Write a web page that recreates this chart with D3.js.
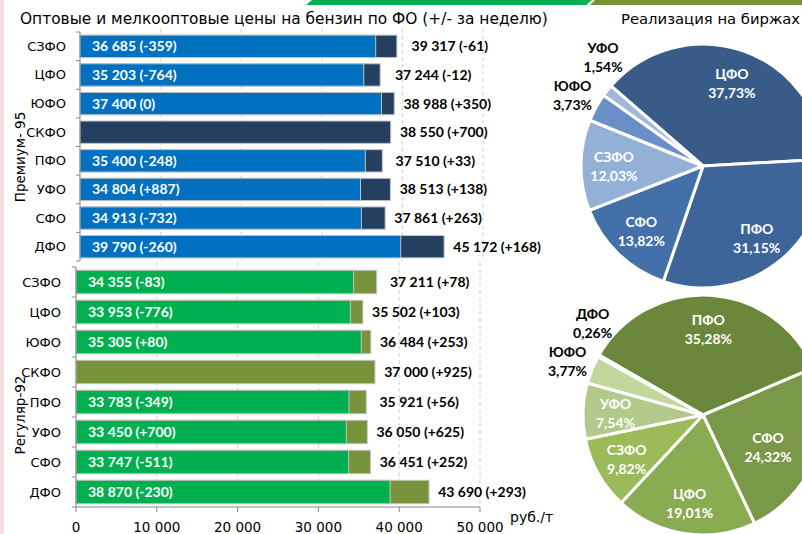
<!DOCTYPE html>
<html>
<head>
<meta charset="utf-8">
<script src="https://cdn.jsdelivr.net/npm/d3@7/dist/d3.min.js"></script>
<style>
  html, body { margin: 0; padding: 0; background: #fff; }
  svg { display: block; }
</style>
</head>
<body>
<svg id="chart" width="802" height="534"></svg>
<script>
// Federal districts, in the order used by both bar panels
const regions = ["СЗФО", "ЦФО", "ЮФО", "СКФО", "ПФО", "УФО", "СФО", "ДФО"];

// Премиум-95: wholesale and small-wholesale prices, руб./т, with weekly change
const premWholesale    = [36685, 35203, 37400, null, 35400, 34804, 34913, 39790];
const premWholesaleChg = [-359, -764, 0, null, -248, 887, -732, -260];
const premSmall        = [39317, 37244, 38988, 38550, 37510, 38513, 37861, 45172];
const premSmallChg     = [-61, -12, 350, 700, 33, 138, 263, 168];

// Регуляр-92
const regWholesale    = [34355, 33953, 35305, null, 33783, 33450, 33747, 38870];
const regWholesaleChg = [-83, -776, 80, null, -349, 700, -511, -230];
const regSmall        = [37211, 35502, 36484, 37000, 35921, 36050, 36451, 43690];
const regSmallChg     = [78, 103, 253, 925, 56, 625, 252, 293];

// Axis ticks
const xTicks = [0, 10000, 20000, 30000, 40000, 50000];

// Exchange sales by district, %
const premPieRegions = ["ЦФО", "ПФО", "СФО", "СЗФО", "ЮФО", "УФО"];
const premPieShares  = [37.73, 31.15, 13.82, 12.03, 3.73, 1.54];
const regPieRegions  = ["ПФО", "СФО", "ЦФО", "СЗФО", "УФО", "ЮФО", "ДФО"];
const regPieShares   = [35.28, 24.32, 19.01, 9.82, 7.54, 3.77, 0.26];

const W = 802, H = 534;
const svg = d3.select("#chart");
const FONT = "'DejaVu Sans', sans-serif";
const BOLD = "Lato, 'Open Sans', sans-serif";

const fmtNum = v => d3.format(",")(v).replace(/,/g, " ");
const fmtChg = v => v > 0 ? "+" + v : String(v);
const fmtPct = v => d3.format(".2f")(v).replace(".", ",") + "%";

// page decorations
svg.append("rect").attr("x", 0).attr("y", 0).attr("width", 4).attr("height", H).attr("fill", "#f5dede");
svg.append("path").attr("d", "M306,5 L312,0 L592,0 L586,5 Z").attr("fill", "#00b050");
svg.append("path").attr("d", "M590,5 L595,0 L802,0 L802,5 Z").attr("fill", "#77933c");

svg.append("text").attr("x", 20).attr("y", 24)
  .attr("font-family", FONT).attr("font-size", 15.4).attr("fill", "#000")
  .text("Оптовые и мелкооптовые цены на бензин по ФО (+/- за неделю)");
svg.append("text").attr("x", 621).attr("y", 24)
  .attr("font-family", FONT).attr("font-size", 14.8).attr("fill", "#000")
  .text("Реализация на биржах");

function barPanel(opt) {
  const g = svg.append("g");
  const x = d3.scaleLinear().domain([0, 50000]).range([opt.x0, opt.x1]);
  const y = d3.scaleBand().domain(regions).range([opt.y0, opt.y1])
    .paddingInner(0.22).paddingOuter(0.11);

  // dashed grid
  g.selectAll("line.grid").data(xTicks.slice(1)).join("line")
    .attr("x1", d => x(d)).attr("x2", d => x(d))
    .attr("y1", opt.gridTop).attr("y2", opt.y1)
    .attr("stroke", "#d0d0d0").attr("stroke-dasharray", "4,3");

  const rows = regions.map((r, i) => ({
    r, w: opt.wholesale[i], wc: opt.wholesaleChg[i], s: opt.small[i], sc: opt.smallChg[i]
  }));

  // small-wholesale bar (full length, underneath)
  g.selectAll("rect.small").data(rows).join("rect")
    .attr("x", x(0)).attr("y", d => y(d.r))
    .attr("width", d => x(d.s) - x(0)).attr("height", y.bandwidth())
    .attr("fill", opt.cSmall).attr("stroke", "#c3c3c3").attr("stroke-width", 1);

  // wholesale bar
  g.selectAll("rect.whole").data(rows.filter(d => d.w != null)).join("rect")
    .attr("x", x(0)).attr("y", d => y(d.r))
    .attr("width", d => x(d.w) - x(0)).attr("height", y.bandwidth())
    .attr("fill", opt.cWhole).attr("stroke", "#c3c3c3").attr("stroke-width", 1);

  // wholesale labels inside
  g.selectAll("text.whole").data(rows.filter(d => d.w != null)).join("text")
    .attr("x", x(0) + opt.inPad).attr("y", d => y(d.r) + y.bandwidth() / 2)
    .attr("dy", "0.36em")
    .attr("font-family", BOLD).attr("font-weight", "bold").attr("font-size", 14)
    .attr("fill", "#fff")
    .text(d => `${fmtNum(d.w)} (${fmtChg(d.wc)})`);

  // small-wholesale labels outside
  g.selectAll("text.small").data(rows).join("text")
    .attr("x", d => x(d.s) + 53).attr("y", d => y(d.r) + y.bandwidth() / 2)
    .attr("dy", "0.36em").attr("text-anchor", "middle")
    .attr("font-family", BOLD).attr("font-weight", "bold").attr("font-size", 14)
    .attr("fill", "#000")
    .text(d => `${fmtNum(d.s)} (${fmtChg(d.sc)})`);

  // category axis
  const step = (opt.y1 - opt.y0) / regions.length;
  g.append("line").attr("x1", x(0)).attr("x2", x(0)).attr("y1", opt.y0).attr("y2", opt.y1)
    .attr("stroke", "#868686");
  g.selectAll("line.ytick").data(d3.range(regions.length + 1)).join("line")
    .attr("x1", x(0) - 4).attr("x2", x(0))
    .attr("y1", i => opt.y0 + i * step).attr("y2", i => opt.y0 + i * step)
    .attr("stroke", "#868686");
  g.selectAll("text.cat").data(regions).join("text")
    .attr("x", x(0) - opt.labGap).attr("y", d => y(d) + y.bandwidth() / 2)
    .attr("dy", "0.35em").attr("text-anchor", "end")
    .attr("font-family", FONT).attr("font-size", 13).attr("fill", "#000")
    .text(d => d);

  g.append("text")
    .attr("transform", `translate(${opt.groupX},${opt.groupY}) rotate(-90)`)
    .attr("text-anchor", "middle")
    .attr("font-family", FONT).attr("font-size", 13.5).attr("fill", "#000")
    .text(opt.group);

  if (opt.showX) {
    g.append("line").attr("x1", x(0)).attr("x2", x(50000)).attr("y1", opt.y1).attr("y2", opt.y1)
      .attr("stroke", "#868686");
    g.selectAll("line.xtick").data(xTicks).join("line")
      .attr("x1", d => x(d)).attr("x2", d => x(d))
      .attr("y1", opt.y1).attr("y2", opt.y1 + 5).attr("stroke", "#868686");
    g.selectAll("text.xt").data(xTicks).join("text")
      .attr("x", d => x(d)).attr("y", opt.y1 + 25).attr("text-anchor", "middle")
      .attr("font-family", FONT).attr("font-size", 13.5).attr("fill", "#000")
      .text(d => fmtNum(d));
    g.append("text").attr("x", x(50000) + 30).attr("y", opt.y1 + 15)
      .attr("font-family", FONT).attr("font-size", 14).attr("fill", "#000")
      .text("руб./т");
  }
}

barPanel({
  x0: 80, x1: 483, y0: 32, y1: 261, gridTop: 29, inPad: 12, labGap: 14,
  wholesale: premWholesale, wholesaleChg: premWholesaleChg,
  small: premSmall, smallChg: premSmallChg,
  cWhole: "#0070c0", cSmall: "#253f61",
  group: "Премиум- 95", groupX: 25, groupY: 157, showX: false
});

barPanel({
  x0: 76, x1: 480, y0: 267, y1: 507, gridTop: 262, inPad: 12, labGap: 15,
  wholesale: regWholesale, wholesaleChg: regWholesaleChg,
  small: regSmall, smallChg: regSmallChg,
  cWhole: "#00b050", cSmall: "#77933c",
  group: "Регуляр-92", groupX: 25, groupY: 415, showX: true
});

function piePanel(opt) {
  const g = svg.append("g").attr("transform", `translate(${opt.cx},${opt.cy})`);
  const data = opt.regions.map((r, i) => ({ r, v: opt.shares[i], c: opt.colors[i] }));
  const start = opt.start * Math.PI / 180;
  const arcs = d3.pie().value(d => d.v).sort(null)
    .startAngle(start).endAngle(start + 2 * Math.PI)(data);
  const arc = d3.arc().innerRadius(0).outerRadius(opt.r);

  g.selectAll("path").data(arcs).join("path")
    .attr("d", arc).attr("fill", d => d.data.c)
    .attr("stroke", "#fff").attr("stroke-width", 3).attr("stroke-linejoin", "round");

  const inArc = d3.arc().innerRadius(opt.r * 0.73).outerRadius(opt.r * 0.73);
  const outArc = d3.arc().innerRadius(opt.r * 1.22).outerRadius(opt.r * 1.22);

  const labels = arcs.map(a => {
    const outside = a.data.v < 5;
    let [lx, ly] = (outside ? outArc : inArc).centroid(a);
    // keep labels within the right edge of the page
    lx = Math.min(lx, W - opt.cx - 34);
    return { a, outside, lx, ly };
  });
  // keep outside labels from overlapping: push the later one upward
  const outs = labels.filter(l => l.outside);
  for (let i = 1; i < outs.length; i++) {
    const prev = outs[i - 1], cur = outs[i];
    if (Math.abs(cur.ly - prev.ly) < 38) {
      cur.ly = prev.ly - 38;
      cur.lx += 17;
    }
  }

  const t = g.selectAll("text.lab").data(labels).join("text")
    .attr("text-anchor", "middle")
    .attr("font-family", BOLD).attr("font-weight", "bold").attr("font-size", 14)
    .attr("fill", d => d.outside ? "#000" : "#fff");
  t.append("tspan").attr("x", d => d.lx).attr("y", d => d.ly - 3).text(d => d.a.data.r);
  t.append("tspan").attr("x", d => d.lx).attr("y", d => d.ly + 16).text(d => fmtPct(d.a.data.v));
}

piePanel({
  cx: 703, cy: 166, r: 122, start: -49,
  regions: premPieRegions, shares: premPieShares,
  colors: ["#385b88", "#3e659a", "#4470a9", "#93b1d7", "#6a8fc8", "#a3b7db"]
});

piePanel({
  cx: 703, cy: 415, r: 120, start: -60,
  regions: regPieRegions, shares: regPieShares,
  colors: ["#6b873c", "#799948", "#89ab52", "#9bbb59", "#b3c98c", "#c3d69b", "#d7e4bd"]
});
</script>
</body>
</html>
